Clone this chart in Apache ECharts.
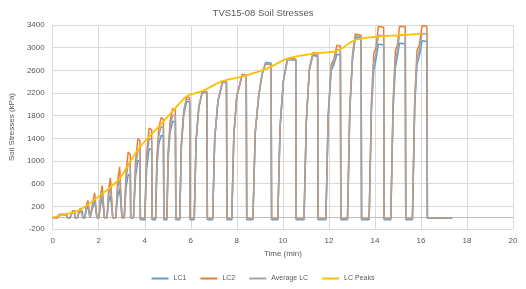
<!DOCTYPE html>
<html>
<head>
<meta charset="utf-8">
<script src="https://cdn.jsdelivr.net/npm/echarts@6/dist/echarts.min.js"></script>
<style>
  html, body { margin: 0; padding: 0; background: #fff; }
  #chart { width: 526px; height: 289px; }
</style>
</head>
<body>
<div id="chart"></div>
<script>
// time (min), one line per load cycle
const time = [
  0,
  0.20, 0.30, 0.60, 0.63,
  0.75, 0.86, 0.95, 0.97,
  1.08, 1.14, 1.21, 1.29, 1.31,
  1.40, 1.46, 1.53, 1.60, 1.62,
  1.70, 1.76, 1.82, 1.90, 1.92,
  2.01, 2.08, 2.15, 2.23, 2.25,
  2.36, 2.43, 2.51, 2.59, 2.61,
  2.74, 2.82, 2.91, 2.99, 3.01,
  3.11, 3.19, 3.28, 3.37, 3.39,
  3.51, 3.60, 3.70, 3.79, 3.81,
  4.00, 4.08, 4.19, 4.30, 4.32,
  4.47, 4.53, 4.61, 4.71, 4.81, 4.83,
  4.96, 5.02, 5.10, 5.21, 5.33, 5.35,
  5.52, 5.59, 5.69, 5.82, 5.95, 5.97,
  6.15, 6.23, 6.35, 6.50, 6.70, 6.72,
  6.95, 7.04, 7.18, 7.38, 7.55, 7.57,
  7.78, 7.87, 8.00, 8.13, 8.23, 8.41, 8.43,
  8.70, 8.80, 8.95, 9.10, 9.25, 9.49, 9.51,
  9.78, 9.88, 10.02, 10.20, 10.56, 10.58,
  10.92, 11.02, 11.15, 11.30, 11.51, 11.53,
  11.87, 11.97, 12.10, 12.22, 12.35, 12.50, 12.52,
  12.81, 12.91, 13.03, 13.15, 13.40, 13.42,
  13.75, 13.85, 13.95, 14.05, 14.15, 14.38, 14.40,
  14.69, 14.79, 14.89, 14.98, 15.07, 15.32, 15.34,
  15.63, 15.73, 15.83, 15.93, 16.05, 16.26, 16.28,
  17.36
];

const lc1 = [
  0,
  0, 45, 45, 0,
  0, 90, 90, 0,
  0, 90, 120, 120, 0,
  0, 140, 200, 195, 0,
  0, 210, 300, 290, 0,
  0, 240, 340, 330, 0,
  0, 280, 390, 380, 0,
  0, 370, 520, 505, 0,
  0, 540, 760, 740, 0,
  0, 720, 1010, 990, -35,
  -35, 860, 1215, 1200, -35,
  -35, 900, 1300, 1450, 1440, -35,
  -35, 1050, 1500, 1700, 1690, -35,
  -35, 1250, 1800, 2050, 2040, -35,
  -35, 1350, 1950, 2210, 2200, -35,
  -35, 1400, 2050, 2390, 2380, -35,
  -35, 1450, 2150, 2360, 2520, 2510, -35,
  -35, 1500, 2150, 2530, 2740, 2730, -35,
  -35, 1600, 2400, 2790, 2780, -35,
  -35, 1700, 2600, 2860, 2850, -35,
  -35, 1750, 2600, 2700, 2885, 2870, -35,
  -35, 1900, 2800, 3180, 3170, -35,
  -35, 1900, 2600, 2800, 3060, 3050, -35,
  -35, 1900, 2650, 2850, 3080, 3070, -35,
  -35, 1950, 2700, 2850, 3120, 3110, -10,
  -10
];

const lc2 = [
  0,
  0, 60, 60, 0,
  0, 120, 120, 0,
  0, 125, 170, 170, 0,
  0, 215, 305, 295, 0,
  0, 310, 440, 425, 0,
  0, 400, 566, 545, 0,
  0, 500, 703, 680, 0,
  0, 640, 897, 870, 0,
  0, 820, 1156, 1120, 0,
  0, 990, 1393, 1360, -15,
  -15, 1120, 1580, 1555, -15,
  -15, 1100, 1580, 1765, 1740, -15,
  -15, 1190, 1700, 1924, 1900, -15,
  -15, 1300, 1880, 2140, 2120, -15,
  -15, 1360, 1960, 2230, 2220, -15,
  -15, 1400, 2060, 2410, 2400, -15,
  -15, 1450, 2150, 2340, 2530, 2520, -15,
  -15, 1500, 2150, 2540, 2710, 2700, -15,
  -15, 1600, 2400, 2810, 2800, -15,
  -15, 1700, 2620, 2914, 2900, -15,
  -15, 1800, 2700, 2800, 3044, 3030, -15,
  -15, 1950, 2900, 3240, 3220, -15,
  -15, 2050, 2900, 3000, 3375, 3360, -15,
  -15, 2050, 2950, 3050, 3380, 3370, -15,
  -15, 2100, 2950, 3050, 3386, 3380, 0,
  0
];

const avgLc = [
  0,
  0, 52, 52, 0,
  0, 105, 105, 0,
  0, 108, 145, 145, 0,
  0, 178, 250, 245, 0,
  0, 260, 370, 358, 0,
  0, 320, 453, 438, 0,
  0, 390, 546, 530, 0,
  0, 505, 708, 688, 0,
  0, 680, 958, 930, 0,
  0, 855, 1200, 1175, -25,
  -25, 990, 1398, 1378, -25,
  -25, 1000, 1440, 1608, 1590, -25,
  -25, 1120, 1600, 1812, 1795, -25,
  -25, 1275, 1840, 2095, 2080, -25,
  -25, 1355, 1955, 2220, 2210, -25,
  -25, 1400, 2055, 2400, 2390, -25,
  -25, 1450, 2150, 2350, 2525, 2515, -25,
  -25, 1500, 2150, 2535, 2720, 2715, -25,
  -25, 1600, 2400, 2800, 2790, -25,
  -25, 1700, 2610, 2890, 2878, -25,
  -25, 1775, 2650, 2750, 2965, 2950, -25,
  -25, 1925, 2850, 3210, 3195, -25,
  -25, 1975, 2750, 2900, 3220, 3205, -25,
  -25, 1975, 2800, 2950, 3230, 3220, -25,
  -25, 2025, 2825, 2950, 3250, 3245, -5,
  -5
];

// LC Peaks envelope
const peakTime = [0, 0.30, 0.86, 1.21, 1.53, 1.82, 2.15, 2.51, 2.91, 3.28, 3.70, 4.19, 4.71, 5.21, 5.82, 6.50, 7.38, 8.23, 9.25, 10.20, 11.30, 12.35, 13.15, 14.15, 15.07, 16.05];
const peakVal = [0, 35, 90, 145, 230, 320, 420, 540, 690, 930, 1200, 1430, 1650, 1880, 2140, 2236, 2410, 2490, 2620, 2807, 2895, 2942, 3136, 3196, 3219, 3248];

const seriesNames = ['LC1', 'LC2', 'Average LC', 'LC Peaks'];
const colors = ['#5B9BD5', '#ED7D31', '#A5A5A5', '#FFC000'];

const pairs = (xs, ys) => xs.map((x, i) => [x, ys[i]]);

const chart = echarts.init(document.getElementById('chart'));
const txt = '#595959';
const font = 'Liberation Sans';

chart.setOption({
  animation: false,
  color: colors,
  title: {
    text: 'TVS15-08 Soil Stresses',
    left: 'center',
    top: 3,
    textStyle: { fontSize: 9.5, fontWeight: 'normal', color: txt, fontFamily: font }
  },
  grid: { left: 51, right: 13, top: 25, bottom: 60 },
  legend: {
    bottom: 2,
    left: 'center',
    icon: 'rect',
    itemWidth: 17,
    itemHeight: 2,
    itemGap: 14,
    textStyle: { fontSize: 7, color: txt, fontFamily: font },
    data: seriesNames
  },
  xAxis: {
    type: 'value',
    min: 0, max: 20, interval: 2,
    name: 'Time (min)',
    nameLocation: 'middle',
    nameGap: 20,
    nameTextStyle: { fontSize: 8, color: txt, fontFamily: font },
    axisLine: { show: false },
    axisTick: { show: false },
    axisLabel: { fontSize: 8, color: txt, fontFamily: font, margin: 8 },
    splitLine: { show: true, lineStyle: { color: '#D9D9D9', width: 1 } }
  },
  yAxis: {
    type: 'value',
    min: -200, max: 3400, interval: 400,
    name: 'Soil Stresses (kPa)',
    nameLocation: 'middle',
    nameGap: 34,
    nameTextStyle: { fontSize: 8, color: txt, fontFamily: font },
    axisLine: { show: false },
    axisTick: { show: false },
    axisLabel: { fontSize: 8, color: txt, fontFamily: font, margin: 8, formatter: v => String(v) },
    splitLine: { show: true, lineStyle: { color: '#D9D9D9', width: 1 } }
  },
  series: [
    { name: 'LC1', type: 'line', data: pairs(time, lc1), showSymbol: false, symbol: 'none', lineStyle: { width: 1.5 } },
    { name: 'LC2', type: 'line', data: pairs(time, lc2), showSymbol: false, symbol: 'none', lineStyle: { width: 1.5 } },
    { name: 'Average LC', type: 'line', data: pairs(time, avgLc), showSymbol: false, symbol: 'none', lineStyle: { width: 1.5 } },
    {
      name: 'LC Peaks', type: 'line', data: pairs(peakTime, peakVal), showSymbol: false, symbol: 'none',
      smooth: 0.3, lineStyle: { width: 1.8 }, z: 5,
      markLine: {
        silent: true, symbol: 'none', label: { show: false },
        lineStyle: { color: '#BFBFBF', width: 1, type: 'solid' },
        data: [{ yAxis: 0 }], z: 1
      }
    }
  ]
});
</script>
</body>
</html>
